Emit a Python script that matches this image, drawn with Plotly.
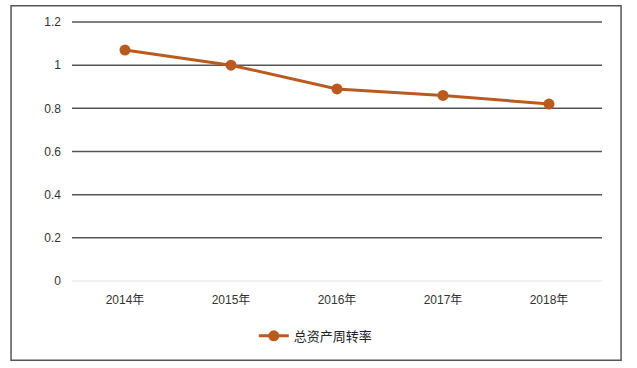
import plotly.graph_objects as go

categories = ["2014年", "2015年", "2016年", "2017年", "2018年"]
values = [1.07, 1.0, 0.89, 0.86, 0.82]
series_name = "总资产周转率"
y_ticks = [0, 0.2, 0.4, 0.6, 0.8, 1, 1.2]
y_tick_labels = ["0", "0.2", "0.4", "0.6", "0.8", "1", "1.2"]

color = "#BA5A1F"
font_family = "Liberation Sans, Noto Sans CJK SC, sans-serif"
y_max = max(y_ticks)

fig = go.Figure()
fig.add_trace(go.Scatter(
    x=categories, y=values, name=series_name, mode="lines+markers",
    line=dict(color=color, width=3),
    marker=dict(color=color, size=11),
))

# gridlines drawn as shapes (dark), zero line light
for t in y_ticks:
    fig.add_shape(type="line", xref="paper", yref="paper", x0=0, x1=1,
                  y0=t / y_max, y1=t / y_max,
                  line=dict(color="#E3E3E3" if t == 0 else "#555555",
                            width=1 if t == 0 else 1.5),
                  layer="below")
# outer border
fig.add_shape(type="rect", xref="paper", yref="paper",
              x0=-0.115, x1=1.036, y0=-0.306, y1=1.063,
              line=dict(color="#555555", width=1.5))

fig.update_layout(
    width=637, height=368,
    margin=dict(l=72, r=35, t=22, b=87),
    paper_bgcolor="white", plot_bgcolor="white",
    font=dict(family=font_family, size=12, color="#333333"),
    showlegend=True,
    legend=dict(orientation="h", x=0.46, xanchor="center", y=-0.212, yanchor="middle",
                bgcolor="rgba(0,0,0,0)",
                font=dict(size=13, color="#222222")),
    xaxis=dict(range=[-0.5, 4.5], showgrid=False, showline=False, zeroline=False,
               ticks="", tickfont=dict(size=12, color="#333333"),
               ticklabelstandoff=10, automargin=False),
    yaxis=dict(range=[0, y_max], tickvals=y_ticks, ticktext=y_tick_labels,
               showgrid=False, zeroline=False, showline=False, ticks="",
               ticklen=0, tickfont=dict(size=12, color="#333333"),
               ticklabelstandoff=10, automargin=False),
)

fig.write_html("out.html", config={"displayModeBar": False},
               post_script="document.body.style.margin='0';document.body.style.overflow='hidden';")
